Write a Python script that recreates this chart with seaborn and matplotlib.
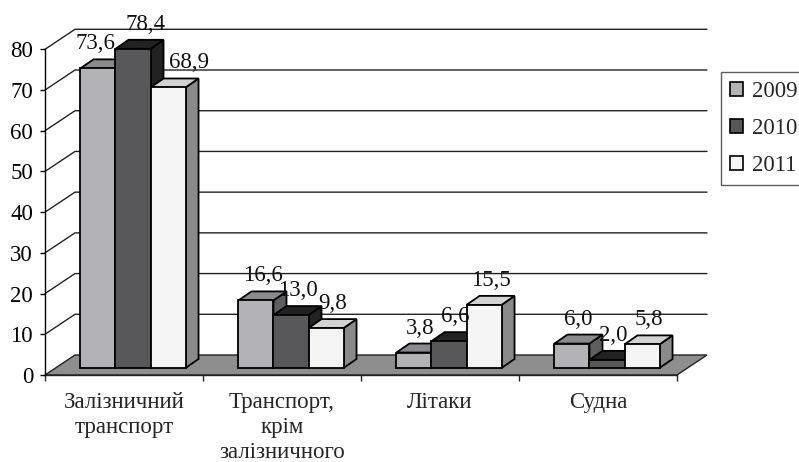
import numpy as np
import pandas as pd
import matplotlib
matplotlib.use("Agg")
import matplotlib.pyplot as plt
import matplotlib.transforms as mtransforms
from matplotlib.patches import Polygon, Patch
import seaborn as sns

# ---- data ----
categories = ["Залізничний\nтранспорт", "Транспорт,\nкрім\nзалізничного", "Літаки", "Судна"]
years = ["2009", "2010", "2011"]
values_2009 = [73.6, 16.6, 3.8, 6.0]
values_2010 = [78.4, 13.0, 6.6, 2.0]
values_2011 = [68.9, 9.8, 15.5, 5.8]
y_ticks = [0, 10, 20, 30, 40, 50, 60, 70, 80]

front_colors = ["#b3b3b7", "#58585b", "#f5f5f5"]
top_colors = ["#8a8a8e", "#222222", "#d2d2d2"]
side_colors = ["#5e5e61", "#222222", "#8a8a8a"]

df = pd.DataFrame({
    "cat": categories * 3,
    "year": sum([[y] * 4 for y in years], []),
    "value": values_2009 + values_2010 + values_2011,
})

sns.set_style("white")
plt.rcParams["font.family"] = ["Liberation Serif", "DejaVu Serif"]
FS = 16.5

W, H, DPI = 799, 462, 100
fig = plt.figure(figsize=(W / DPI, H / DPI), dpi=DPI)
L, R, T, B = 45, 677, 49.3, 375
ax = fig.add_axes([L / W, (H - B) / H, (R - L) / W, (B - T) / H])

sns.barplot(data=df, x="cat", y="value", hue="year", order=categories,
            hue_order=years, palette=front_colors, width=0.665, saturation=1,
            edgecolor="black", linewidth=1.3, legend=False, ax=ax)

ax.set_xlim(-0.5, 3.5)
ax.set_ylim(0, 80)
ax.set_xlabel("")
ax.set_ylabel("")

px_x = (R - L) / 4.0
px_y = (B - T) / 80.0

FLOOR_DX, FLOOR_DY = 30, 20
BAR_POS_DX, BAR_POS_DY = 9, 7
BAR_DX, BAR_DY = 13, 9

fdx, fdy = FLOOR_DX / px_x, FLOOR_DY / px_y
bdx, bdy = BAR_DX / px_x, BAR_DY / px_y

for v in y_ticks[1:]:
    ax.plot([-0.5, -0.5 + fdx, 3.5 + fdx], [v, v + fdy, v + fdy],
            color="#222222", lw=1.0, clip_on=False, zorder=0.5)

floor = Polygon([(-0.5, 0), (3.5, 0), (3.5 + fdx, fdy), (-0.5 + fdx, fdy)],
                closed=True, facecolor="#8e8e8e", edgecolor="#222222", lw=1.0,
                clip_on=False, zorder=1)
ax.add_patch(floor)

shift = ax.transData + mtransforms.ScaledTranslation(BAR_POS_DX / DPI, BAR_POS_DY / DPI,
                                                     fig.dpi_scale_trans)
# label nudges (pixels) for the crowded first group
nudge = {(0, 0): -9, (0, 1): 6, (0, 2): 15}

barw = 0.665 / 3
bars = [p for p in ax.patches if p is not floor]
for p in bars:
    x0 = p.get_x()
    w = p.get_width()
    h = p.get_height()
    cx = x0 + w / 2
    ci = int(round(cx))
    hi = int(round((cx - ci) / barw + 1))
    base_z = 3 + ci * 1 + hi * 0.1
    p.set_transform(shift)
    p.set_clip_on(False)
    p.set_zorder(base_z + 0.05)
    x1 = x0 + w
    top = Polygon([(x0, h), (x1, h), (x1 + bdx, h + bdy), (x0 + bdx, h + bdy)],
                  closed=True, facecolor=top_colors[hi], edgecolor="black", lw=1.3,
                  transform=shift, clip_on=False, zorder=base_z)
    side = Polygon([(x1, 0), (x1 + bdx, bdy), (x1 + bdx, h + bdy), (x1, h)],
                   closed=True, facecolor=side_colors[hi], edgecolor="black", lw=1.3,
                   transform=shift, clip_on=False, zorder=base_z)
    ax.add_patch(side)
    ax.add_patch(top)
    lbl = f"{h:.1f}".replace(".", ",")
    nx = nudge.get((ci, hi), 0) / px_x
    ax.text(cx + bdx / 2 + nx, h + bdy + 10 / px_y, lbl, transform=shift,
            ha="center", va="baseline", fontsize=FS, color="#111111", zorder=20)

for s in ["top", "right"]:
    ax.spines[s].set_visible(False)
ax.spines["left"].set_color("black")
ax.spines["left"].set_linewidth(1.0)
ax.spines["bottom"].set_color("#222222")
ax.spines["bottom"].set_linewidth(1.0)
ax.spines["left"].set_zorder(30)

ax.set_yticks(y_ticks)
ax.set_yticklabels([str(t) for t in y_ticks])
ax.tick_params(axis="y", direction="out", length=3.6, width=1, pad=5,
               labelsize=FS, colors="black", left=True)
ax.set_xticks(range(len(categories)))
ax.set_xticklabels(categories, linespacing=1.25)
ax.set_xticks([-0.5, 0.5, 1.5, 2.5, 3.5], minor=True)
ax.tick_params(axis="x", which="major", length=0, pad=12, labelsize=FS)
ax.tick_params(axis="x", which="minor", direction="out", length=4.5, width=1,
               bottom=True)
ax.grid(False)

handles = [Patch(facecolor=c, edgecolor="black", lw=1.2) for c in front_colors]
leg = fig.legend(handles, years, loc="upper left",
                 bbox_to_anchor=(721 / W, 1 - 72 / H), bbox_transform=fig.transFigure,
                 borderaxespad=0, fontsize=FS, frameon=True, fancybox=False,
                 edgecolor="#333333", handlelength=0.55, handleheight=0.55,
                 handletextpad=0.4, labelspacing=0.7, borderpad=0.4)
leg.get_frame().set_linewidth(1.0)

fig.savefig("out.png", dpi=DPI)
